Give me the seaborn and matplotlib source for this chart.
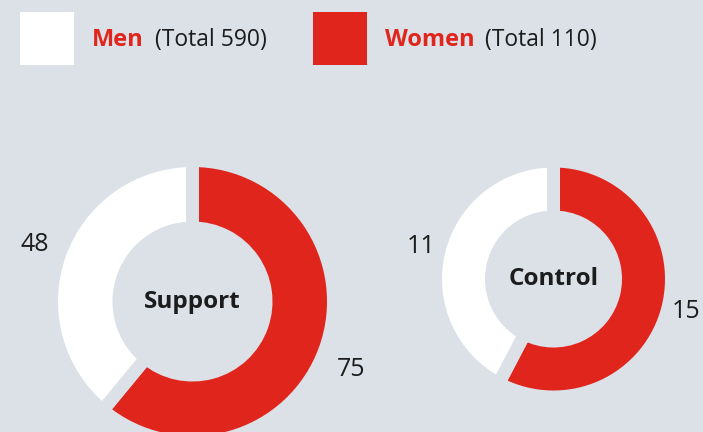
import seaborn as sns
import matplotlib.pyplot as plt
from matplotlib.patches import Rectangle

groups = ["Support", "Control"]
women = [75, 15]
men = [48, 11]
legend_names = ["Men", "Women"]
legend_totals = ["(Total 590)", "(Total 110)"]

bg = "#dbe1e7"
red = "#e0251c"
dark = "#1c1c1c"

sns.set_theme(style="white", rc={"figure.facecolor": bg, "axes.facecolor": bg})
plt.rcParams["font.family"] = ["Open Sans", "DejaVu Sans"]

W, H = 703, 432
fig = plt.figure(figsize=(W / 100, H / 100), dpi=100)

# legend row
for x0, col, name, tot, tx, ttx in [
    (20, "white", legend_names[0], legend_totals[0], 92, 155),
    (313, red, legend_names[1], legend_totals[1], 385, 485),
]:
    fig.patches.append(Rectangle((x0 / W, 1 - 65 / H), 54 / W, 53 / H,
                                 transform=fig.transFigure, color=col, lw=0))
    fig.text(tx / W, 1 - 40 / H, name, color=red, fontsize=17,
             fontweight="bold", va="center", ha="left")
    fig.text(ttx / W, 1 - 40 / H, tot, color=dark, fontsize=16.5,
             va="center", ha="left")


def donut(cx, cy, R, inner, vals, name, labdist, drop):
    ax = fig.add_axes([(cx - R) / W, 1 - (cy + R) / H, 2 * R / W, 2 * R / H])
    gap = 13
    rad = 1 + gap / 2 / R
    width = rad - (inner - gap / 2) / R
    wedges, texts = ax.pie(
        vals, colors=[red, "white"], startangle=90, counterclock=False,
        radius=rad, labels=[str(v) for v in vals], labeldistance=labdist / rad,
        wedgeprops=dict(width=width, edgecolor=bg, linewidth=gap * 0.72),
        textprops=dict(fontsize=18, color=dark),
    )
    for w in wedges:
        w.set_clip_on(False)
    for t in texts:
        t.set_ha("center")
    texts[0].set_y(texts[0].get_position()[1] - drop)
    ax.text(0, 0, name, ha="center", va="center", fontsize=17.5,
            fontweight="bold", color=dark)
    ax.set_xlim(-1, 1)
    ax.set_ylim(-1, 1)
    ax.axis("off")


donut(192.5, 301.5, 134.5, 80, [women[0], men[0]], groups[0], 1.25, 0.08)
donut(553.5, 279, 111.5, 68.5, [women[1], men[1]], groups[1], 1.22, 0.0)

fig.savefig("out.png", dpi=100, facecolor=bg)
